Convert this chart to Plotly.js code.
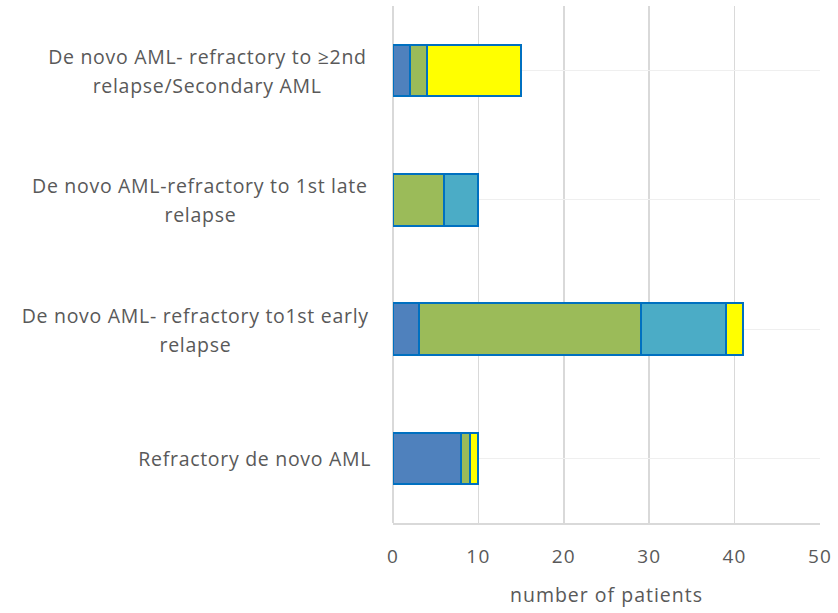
<!DOCTYPE html>
<html>
<head>
<meta charset="utf-8">
<script src="https://cdn.plot.ly/plotly-3.0.1.min.js"></script>
<style>
html,body{margin:0;padding:0;background:#fff;}
#chart{width:838px;height:613px;}
#chart .annotation-text{letter-spacing:0.7px;}
#chart .xtick text{letter-spacing:1.2px;}
#chart .xtitle{letter-spacing:1px;}
</style>
</head>
<body>
<div id="chart"></div>
<script>
// Categories listed bottom to top
var categories = [
  "Refractory de novo AML",
  "De novo AML- refractory to1st early relapse",
  "De novo AML-refractory to 1st late relapse",
  "De novo AML- refractory to ≥2nd relapse/Secondary AML"
];
var categoryLabelLines = [
  ["Refractory de novo AML"],
  ["De novo AML- refractory to1st early", "relapse"],
  ["De novo AML-refractory to 1st late", "relapse"],
  ["De novo AML- refractory to ≥2nd", "relapse/Secondary AML"]
];
var seriesBlue   = [8, 3, 0, 2];
var seriesGreen  = [1, 26, 6, 2];
var seriesTeal   = [0, 10, 4, 0];
var seriesYellow = [1, 2, 0, 11];
var xTicks = [0, 10, 20, 30, 40, 50];

var colors = ["#4f81bd", "#9bbb59", "#4bacc6", "#ffff00"];
var series = [seriesBlue, seriesGreen, seriesTeal, seriesYellow];
var names = ["Series 1", "Series 2", "Series 3", "Series 4"];

var traces = series.map(function (vals, i) {
  return {
    type: "bar",
    orientation: "h",
    y: categories,
    x: vals,
    name: names[i],
    width: 0.4,
    marker: { color: colors[i], line: { color: "#0070c0", width: 2 } },
    hoverinfo: "x+y"
  };
});

var font = "'Open Sans', sans-serif";
var plotLeft = 393, plotWidth = 838 - 393 - 18;
var centersPx = [null, 195, 200, 207];
var annotations = [];
categories.forEach(function (c, i) {
  var lines = categoryLabelLines[i];
  lines.forEach(function (t, j) {
    var multi = lines.length > 1;
    var px = multi ? centersPx[i] : 365;
    annotations.push({
      xref: "paper", yref: "y",
      x: (px - plotLeft) / plotWidth,
      y: c,
      xanchor: multi ? "center" : "right",
      yanchor: "middle",
      yshift: multi ? (j === 0 ? 14 : -15) : 0,
      text: t,
      showarrow: false,
      font: { family: font, size: 19.5, color: "#595959" }
    });
  });
});

var layout = {
  width: 838, height: 613,
  margin: { l: 393, r: 18, t: 6, b: 90 },
  paper_bgcolor: "#ffffff",
  plot_bgcolor: "#ffffff",
  barmode: "stack",
  showlegend: false,
  font: { family: font, color: "#595959", size: 19 },
  xaxis: {
    range: [0, 50],
    tickvals: xTicks,
    ticktext: xTicks.map(String),
    showgrid: true,
    gridcolor: "#d9d9d9",
    gridwidth: 1.5,
    zeroline: true,
    zerolinecolor: "#d9d9d9",
    zerolinewidth: 1.5,
    showline: true,
    linecolor: "#d9d9d9",
    linewidth: 1.5,
    ticks: "",
    ticklabelstandoff: 16,
    tickfont: { family: font, size: 19, color: "#595959" },
    title: { text: "number of patients", font: { family: font, size: 19.5, color: "#595959" }, standoff: 20 }
  },
  yaxis: {
    type: "category",
    categoryorder: "array",
    categoryarray: categories,
    showticklabels: false,
    showgrid: true,
    gridcolor: "#efefef",
    gridwidth: 1,
    ticks: "",
    showline: false,
    range: [-0.5, 3.5]
  },
  annotations: annotations
};

Plotly.newPlot("chart", traces, layout, { displayModeBar: false, staticPlot: true });
</script>
</body>
</html>
